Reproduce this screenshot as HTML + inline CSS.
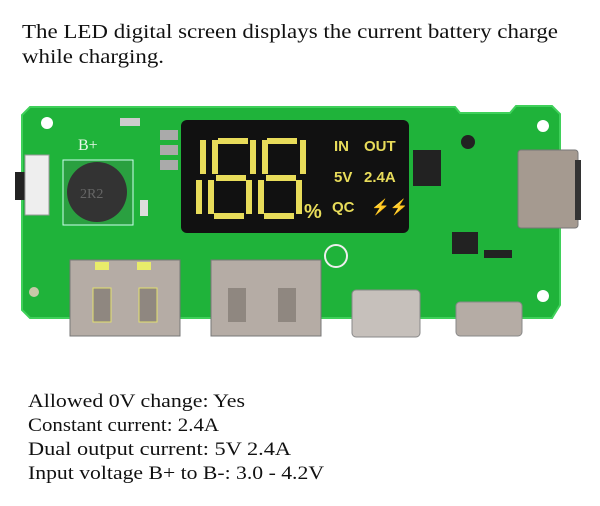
<!DOCTYPE html>
<html><head><meta charset="utf-8"><style>
html,body{margin:0;padding:0;background:#fff;}
svg{display:block;}
text{font-family:"Liberation Serif",serif;fill:#111;}
</style></head><body>
<svg width="600" height="506" viewBox="0 0 600 506" xmlns="http://www.w3.org/2000/svg">
<text x="22" y="38" font-size="20" textLength="536" lengthAdjust="spacingAndGlyphs">The LED digital screen displays the current battery charge</text>
<text x="22" y="63" font-size="20" textLength="142" lengthAdjust="spacingAndGlyphs">while charging.</text>

<path d="M30 107 L455 107 L460 113 L510 113 L516 106 L552 106 L560 114 L560 305 L552 318 L30 318 L22 310 L22 115 Z" fill="#1fb33a" stroke="#3fd05a" stroke-width="2"/>
<circle cx="47" cy="123" r="6" fill="#fff"/>
<circle cx="543" cy="126" r="6" fill="#fff"/>
<circle cx="543" cy="296" r="6" fill="#fff"/>
<circle cx="34" cy="292" r="5" fill="#c8c8a8"/>
<circle cx="468" cy="142" r="7" fill="#222"/>
<rect x="15" y="172" width="10" height="28" fill="#222"/>
<rect x="25" y="155" width="24" height="60" fill="#eee" stroke="#999"/>
<rect x="63" y="160" width="70" height="65" fill="#2aa040" stroke="#cfe"/>
<circle cx="97" cy="192" r="30" fill="#333"/>
<text x="80" y="198" font-size="14" style="fill:#666">2R2</text>
<text x="78" y="150" font-size="16" style="fill:#e8f8e8">B+</text>
<rect x="120" y="118" width="20" height="8" fill="#ccc"/>
<rect x="160" y="130" width="18" height="10" fill="#aaa"/>
<rect x="160" y="145" width="18" height="10" fill="#aaa"/>
<rect x="160" y="160" width="18" height="10" fill="#aaa"/>
<rect x="140" y="200" width="8" height="16" fill="#ddd"/>
<rect x="181" y="120" width="228" height="113" rx="6" fill="#111"/>
<g fill="#e8dc5a">
<rect x="200" y="140" width="6" height="34"/><rect x="196" y="180" width="6" height="34"/>
<rect x="218" y="138" width="30" height="6"/><rect x="212" y="140" width="6" height="34"/><rect x="250" y="140" width="6" height="34"/>
<rect x="216" y="175" width="30" height="6"/>
<rect x="208" y="180" width="6" height="34"/><rect x="246" y="180" width="6" height="34"/><rect x="214" y="213" width="30" height="6"/>
<rect x="267" y="138" width="30" height="6"/><rect x="262" y="140" width="6" height="34"/><rect x="300" y="140" width="6" height="34"/>
<rect x="266" y="175" width="30" height="6"/>
<rect x="258" y="180" width="6" height="34"/><rect x="296" y="180" width="6" height="34"/><rect x="264" y="213" width="30" height="6"/>
</g>
<g style="fill:#e8dc5a;font-family:'Liberation Sans',sans-serif;font-weight:bold;font-size:15px">
<text x="334" y="151" style="fill:#e8dc5a;font-family:'Liberation Sans',sans-serif">IN</text>
<text x="364" y="151" style="fill:#e8dc5a;font-family:'Liberation Sans',sans-serif">OUT</text>
<text x="334" y="182" style="fill:#e8dc5a;font-family:'Liberation Sans',sans-serif">5V</text>
<text x="364" y="182" style="fill:#e8dc5a;font-family:'Liberation Sans',sans-serif">2.4A</text>
<text x="332" y="212" style="fill:#e8dc5a;font-family:'Liberation Sans',sans-serif">QC</text>
<text x="371" y="212" style="fill:#e8dc5a;font-family:'Liberation Sans',sans-serif">⚡⚡</text>
<text x="304" y="218" style="fill:#e8dc5a;font-family:'Liberation Sans',sans-serif;font-size:20px">%</text>
</g>
<rect x="413" y="150" width="28" height="36" fill="#222"/>
<rect x="452" y="232" width="26" height="22" fill="#222"/>
<rect x="484" y="250" width="28" height="8" fill="#222"/>
<circle cx="336" cy="256" r="11" fill="none" stroke="#eee" stroke-width="2"/>
<rect x="518" y="150" width="60" height="78" rx="3" fill="#a59a90" stroke="#777"/>
<rect x="575" y="160" width="6" height="60" fill="#333"/>
<rect x="70" y="260" width="110" height="76" fill="#b5aca5" stroke="#777"/>
<rect x="95" y="262" width="14" height="8" fill="#e8ec6a"/>
<rect x="137" y="262" width="14" height="8" fill="#e8ec6a"/>
<path d="M93 288 h18 v34 h-18 z M139 288 h18 v34 h-18 z" fill="#8f8780" stroke="#e3e070"/>
<rect x="211" y="260" width="110" height="76" fill="#b5aca5" stroke="#777"/>
<path d="M228 288 h18 v34 h-18 z M278 288 h18 v34 h-18 z" fill="#8f8780"/>
<rect x="352" y="290" width="68" height="47" rx="4" fill="#c6c0bb" stroke="#888"/>
<rect x="456" y="302" width="66" height="34" rx="4" fill="#b5aca5" stroke="#888"/>

<text x="28" y="407" font-size="19" textLength="217" lengthAdjust="spacingAndGlyphs">Allowed 0V change: Yes</text>
<text x="28" y="431" font-size="19" textLength="191" lengthAdjust="spacingAndGlyphs">Constant current: 2.4A</text>
<text x="28" y="455" font-size="19" textLength="263" lengthAdjust="spacingAndGlyphs">Dual output current: 5V 2.4A</text>
<text x="28" y="479" font-size="19" textLength="296" lengthAdjust="spacingAndGlyphs">Input voltage B+ to B-: 3.0 - 4.2V</text>
</svg>
</body></html>
